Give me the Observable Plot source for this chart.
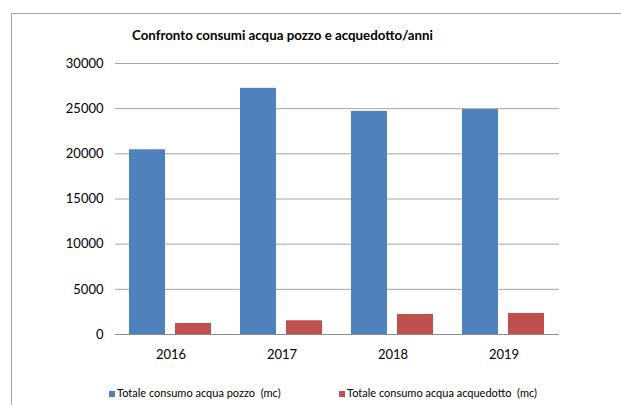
<!DOCTYPE html>
<html>
<head>
<meta charset="utf-8">
<script src="https://cdn.jsdelivr.net/npm/d3@7"></script>
<script src="https://cdn.jsdelivr.net/npm/@observablehq/plot@0.6"></script>
<style>
  html, body { margin: 0; padding: 0; background: #fff; width: 621px; height: 405px; overflow: hidden; }
  #frame { position: absolute; left: 11px; top: 13px; width: 620px; height: 400px;
           border-top: 1px solid #a6a6a6; border-left: 1px solid #a6a6a6; box-sizing: border-box; }
  #title { position: absolute; left: 0; top: 0; width: 541px; padding-top: 11px; line-height: 20px;
           text-align: center; font-family: Lato, "Open Sans", sans-serif; font-weight: bold; font-size: 13.3px; color: #000; }
  #chart { position: absolute; left: -12px; top: 31px; }
  #legend { position: absolute; left: 0; top: 372px; width: 600px; height: 14px;
            font-family: Lato, "Open Sans", sans-serif; font-size: 11px; color: #000; line-height: 14px; }
  .item { position: absolute; top: 0; white-space: pre; }
  .sw { display: inline-block; width: 6px; height: 6px; margin-right: 2px; vertical-align: 0px; }
</style>
</head>
<body>
<div id="frame">
  <div id="title"></div>
  <div id="chart"></div>
  <div id="legend"></div>
</div>
<script>
const years = ["2016", "2017", "2018", "2019"];
const seriesNames = ["Totale consumo acqua pozzo  (mc)", "Totale consumo acqua acquedotto  (mc)"];
const pozzo = [20450, 27250, 24700, 24900];
const acquedotto = [1220, 1520, 2220, 2330];
const yTicks = [0, 5000, 10000, 15000, 20000, 25000, 30000];
const colors = ["#4F81BD", "#C0504D"];
const titleText = "Confronto consumi acqua pozzo e acquedotto/anni";

const data = [];
years.forEach((y, i) => {
  data.push({year: y, series: seriesNames[0], value: pozzo[i]});
  data.push({year: y, series: seriesNames[1], value: acquedotto[i]});
});

document.getElementById("title").textContent = titleText;

const chart = Plot.plot({
  width: 621,
  height: 330,
  marginLeft: 115,
  marginRight: 62,
  marginTop: 18,
  marginBottom: 41,
  style: {fontFamily: "Lato, 'Open Sans', sans-serif", fontSize: "13px", color: "#000", background: "transparent"},
  fx: {domain: years, padding: 0, axis: "bottom", label: null, tickSize: 0, tickPadding: 15},
  x: {domain: seriesNames, paddingInner: 0.215, paddingOuter: 0.3, axis: null},
  y: {domain: [0, 30000], ticks: yTicks, tickFormat: "d", label: null, tickSize: 0, tickPadding: 12},
  color: {domain: seriesNames, range: colors},
  marks: [
    Plot.gridY(yTicks, {stroke: "#a6a6a6", strokeOpacity: 1}),
    Plot.barY(data, {fx: "year", x: "series", y: "value", fill: "series"}),
    Plot.ruleY([0], {stroke: "#8c8c8c", strokeOpacity: 1})
  ]
});
document.getElementById("chart").appendChild(chart);

const legend = document.getElementById("legend");
const lefts = [97, 327];
seriesNames.forEach((s, i) => {
  const it = document.createElement("div");
  it.className = "item";
  it.style.left = lefts[i] + "px";
  const sw = document.createElement("span");
  sw.className = "sw";
  sw.style.background = colors[i];
  it.appendChild(sw);
  it.appendChild(document.createTextNode(s));
  legend.appendChild(it);
});
</script>
</body>
</html>
